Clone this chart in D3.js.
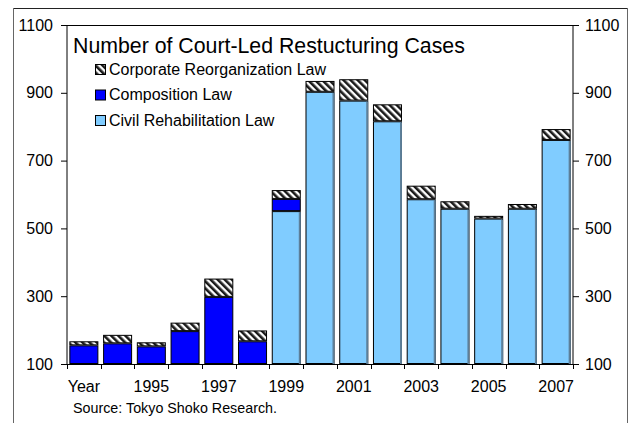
<!DOCTYPE html>
<html><head><meta charset="utf-8">
<script src="https://cdn.jsdelivr.net/npm/d3@7/dist/d3.min.js"></script>
<style>body{margin:0;background:#fff}svg{display:block;font-family:"Liberation Sans",Arial,sans-serif}</style>
</head><body>
<svg id="c" width="629" height="423"></svg>
<script>
const years = [1993,1994,1995,1996,1997,1998,1999,2000,2001,2002,2003,2004,2005,2006,2007];
const xTickLabels = ["Year","","1995","","1997","","1999","","2001","","2003","","2005","","2007"];
const civil = [0,0,0,0,0,0,551,903,877,816,586,558,529,558,761];
const composition = [155,161,152,197,298,167,36,0,0,0,0,0,0,0,0];
const corporate = [12,25,12,25,54,32,26,32,63,50,40,22,8,14,32];
const yTicks = [100,300,500,700,900,1100];
const seriesNames = ["Civil Rehabilitation Law","Composition Law","Corporate Reorganization Law"];
const legendOrder = ["Corporate Reorganization Law","Composition Law","Civil Rehabilitation Law"];
const title = "Number of Court-Led Restucturing Cases";
const source = "Source: Tokyo Shoko Research.";

const svg = d3.select("#c");
const L=67,R=573,T=25,B=364;
const FONT = "Liberation Sans, Arial, sans-serif";
const defs = svg.append("defs");
const pat = defs.append("pattern").attr("id","hatch").attr("patternUnits","userSpaceOnUse")
  .attr("width",5).attr("height",5).attr("patternTransform","rotate(-45)");
pat.append("rect").attr("width",5).attr("height",5).attr("fill","#fff");
pat.append("rect").attr("width",2.6).attr("height",5).attr("fill","#1a1a1a");

const colors = {"Civil Rehabilitation Law":"#80CCFF","Composition Law":"#0000FF","Corporate Reorganization Law":"url(#hatch)"};

// frame
svg.append("line").attr("x1",13).attr("x2",628).attr("y1",8.5).attr("y2",8.5).attr("stroke","#222");
svg.append("line").attr("x1",13.5).attr("x2",13.5).attr("y1",8).attr("y2",423).attr("stroke","#666");
svg.append("line").attr("x1",627.5).attr("x2",627.5).attr("y1",8).attr("y2",423).attr("stroke","#666");

const x = d3.scaleBand().domain(years).range([L,R]).paddingInner(0.14).paddingOuter(0.07);
const y = d3.scaleLinear().domain([100,1100]).range([B,T]).clamp(true);

const table = years.map((yr,i)=>({year:yr,"Civil Rehabilitation Law":civil[i],"Composition Law":composition[i],"Corporate Reorganization Law":corporate[i]}));
const stack = d3.stack().keys(seriesNames)(table);

svg.append("line").attr("x1",L).attr("x2",R).attr("y1",T+0.5).attr("y2",T+0.5).attr("stroke","#000");

stack.forEach(s=>{
  const g = svg.append("g");
  s.forEach(d=>{
    if(d[1]-d[0]<=0) return;
    const x0 = x(d.data.year), w = x.bandwidth();
    const y1 = y(d[1]), y0 = y(d[0]);
    g.append("rect").attr("x",x0+0.5).attr("y",y1+0.5).attr("width",w-1).attr("height",Math.max(0,y0-y1-1))
      .attr("fill",colors[s.key]).attr("stroke","#000").attr("stroke-width",1);
    if(s.key==="Civil Rehabilitation Law"){
      g.append("line").attr("x1",x0+w-1).attr("x2",x0+w-1).attr("y1",y1+1).attr("y2",y0)
        .attr("stroke","#5d7f99").attr("stroke-width",2);
    }
  });
});

const yl = svg.append("g").attr("transform",`translate(${L},0)`)
  .call(d3.axisLeft(y).tickValues(yTicks).tickFormat(d3.format("d")).tickSize(6).tickPadding(8));
const yr = svg.append("g").attr("transform",`translate(${R},0)`)
  .call(d3.axisRight(y).tickValues(yTicks).tickFormat(d3.format("d")).tickSize(6).tickPadding(6));
[yl,yr].forEach(g=>{
  g.select(".domain").attr("stroke","#000").attr("d",`M0,${T}V${B}`);
  g.selectAll("text").attr("font-size",16).attr("font-family",FONT).attr("fill","#000");
});

const xa = svg.append("g").attr("transform",`translate(0,${B})`)
  .call(d3.axisBottom(x).tickSize(0).tickPadding(17).tickFormat((d,i)=>xTickLabels[i]));
xa.select(".domain").attr("stroke","#000").attr("d",`M${L},0.5H${R}`);
xa.selectAll("text").attr("font-size",16).attr("font-family",FONT).attr("fill","#000");
const bounds = years.map(yv=>x(yv)-x.step()*x.paddingOuter()).concat([R]);
svg.append("g").selectAll("line").data(bounds).join("line")
  .attr("x1",d=>Math.round(d)+0.5).attr("x2",d=>Math.round(d)+0.5).attr("y1",B).attr("y2",B+5).attr("stroke","#000");

svg.append("text").attr("x",73).attr("y",53).attr("font-size",21.3).attr("font-family",FONT).text(title);

const lg = svg.append("g");
legendOrder.forEach((k,i)=>{
  const yy = 64 + i*25.5;
  lg.append("rect").attr("x",95.5).attr("y",yy+0.5).attr("width",10).attr("height",10)
    .attr("fill",colors[k]).attr("stroke","#000");
  lg.append("text").attr("x",109).attr("y",yy+10.5).attr("font-size",16).attr("font-family",FONT).text(k);
});

svg.append("text").attr("x",73).attr("y",413).attr("font-size",14.3).attr("font-family",FONT).text(source);
</script>
</body></html>
